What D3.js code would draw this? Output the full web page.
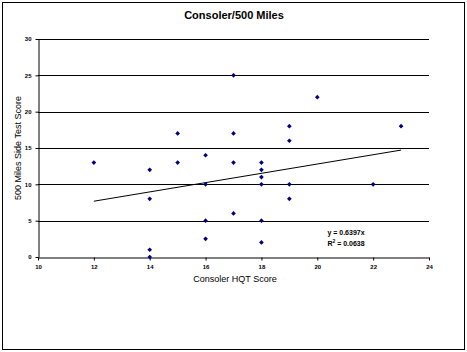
<!DOCTYPE html>
<html>
<head>
<meta charset="utf-8">
<script src="https://cdn.jsdelivr.net/npm/d3@7"></script>
<style>
  body { margin: 0; background: #fff; }
  svg { display: block; }
</style>
</head>
<body>
<script>
const width = 467;
const height = 352;

// scores
const hqtScore = [12, 14, 14, 14, 14, 15, 15, 16, 16, 16, 16, 17, 17, 17, 17,
  18, 18, 18, 18, 18, 18, 19, 19, 19, 19, 20, 22, 23];
const sideScore = [13, 12, 8, 1, 0, 17, 13, 14, 10, 5, 2.5, 25, 17, 13, 6,
  13, 12, 11, 10, 5, 2, 18, 16, 10, 8, 22, 10, 18];

const xTicks = [10, 12, 14, 16, 18, 20, 22, 24];
const yTicks = [0, 5, 10, 15, 20, 25, 30];
const slope = 0.6397;
const rSquared = 0.0638;

const points = hqtScore.map((x, i) => ({ x, y: sideScore[i] }));

const margin = { top: 39, right: 38, bottom: 95, left: 38 };

const x = d3.scaleLinear()
  .domain([10, 24])
  .range([margin.left, width - margin.right]);

const y = d3.scaleLinear()
  .domain([0, 30])
  .range([height - margin.bottom, margin.top]);

const svg = d3.select("body").append("svg")
  .attr("width", width)
  .attr("height", height)
  .attr("font-family", "Arial, 'Liberation Sans', sans-serif");

// outer frame
svg.append("rect")
  .attr("x", 2.5)
  .attr("y", 2.5)
  .attr("width", width - 5)
  .attr("height", height - 5)
  .attr("fill", "#fff")
  .attr("stroke", "#000");

svg.append("text")
  .attr("x", 234)
  .attr("y", 19)
  .attr("text-anchor", "middle")
  .attr("font-size", 11)
  .attr("font-weight", "bold")
  .text("Consoler/500 Miles");

// horizontal gridlines
svg.append("g")
  .attr("stroke", "#000")
  .selectAll("line")
  .data(yTicks.slice(1))
  .join("line")
  .attr("x1", x(10))
  .attr("x2", x(24))
  .attr("y1", d => Math.round(y(d)) + 0.5)
  .attr("y2", d => Math.round(y(d)) + 0.5);

const yAxis = svg.append("g")
  .attr("transform", `translate(${x(10) + 0.5},0)`)
  .call(d3.axisLeft(y).tickValues(yTicks).tickSize(3).tickSizeOuter(0).tickPadding(4));

const xAxis = svg.append("g")
  .attr("transform", `translate(0,${Math.round(y(0)) + 0.5})`)
  .call(d3.axisBottom(x).tickValues(xTicks).tickSize(3).tickSizeOuter(0).tickPadding(4));

for (const ax of [xAxis, yAxis]) {
  ax.select(".domain").attr("stroke", "#000");
  ax.selectAll(".tick line").attr("stroke", "#000");
  ax.selectAll("text")
    .attr("font-size", 6)
    .attr("font-weight", "bold")
    .attr("fill", "#000")
    .attr("font-family", "Arial, 'Liberation Sans', sans-serif");
}

// trendline over the data range
const xr = d3.extent(hqtScore);
svg.append("line")
  .attr("x1", x(xr[0]))
  .attr("y1", y(slope * xr[0]))
  .attr("x2", x(xr[1]))
  .attr("y2", y(slope * xr[1]))
  .attr("stroke", "#000")
  .attr("stroke-width", 1);

svg.append("g")
  .attr("fill", "#000080")
  .selectAll("path")
  .data(points)
  .join("path")
  .attr("d", d3.symbol(d3.symbolDiamond2 || d3.symbolDiamond, 14))
  .attr("transform", d => `translate(${x(d.x)},${y(d.y)})`);

svg.append("text")
  .attr("x", 346)
  .attr("y", 235)
  .attr("text-anchor", "middle")
  .attr("font-size", 7)
  .attr("font-weight", "bold")
  .text(`y = ${slope}x`);

const r2 = svg.append("text")
  .attr("x", 346)
  .attr("y", 246)
  .attr("text-anchor", "middle")
  .attr("font-size", 7)
  .attr("font-weight", "bold");
r2.append("tspan").text("R");
r2.append("tspan").attr("dy", -3).attr("font-size", 5).text("2");
r2.append("tspan").attr("dy", 3).text(` = ${rSquared}`);

svg.append("text")
  .attr("x", 235)
  .attr("y", 282)
  .attr("text-anchor", "middle")
  .attr("font-size", 9)
  .text("Consoler HQT Score");

svg.append("text")
  .attr("transform", `translate(21,${y(15)}) rotate(-90)`)
  .attr("text-anchor", "middle")
  .attr("font-size", 9)
  .text("500 Miles Side Test Score");
</script>
</body>
</html>
